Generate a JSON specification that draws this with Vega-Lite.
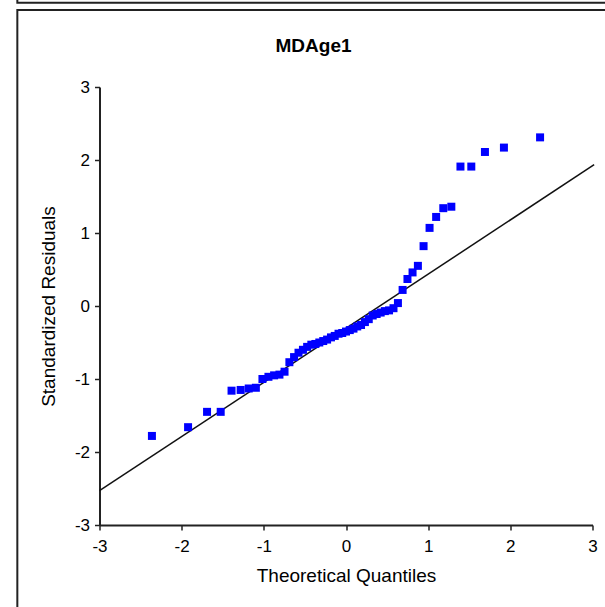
{
  "$schema": "https://vega.github.io/schema/vega-lite/v6.json",
  "autosize": {"type": "none"},
  "width": 493,
  "height": 438,
  "padding": {"left": 99.5, "top": 87, "right": 12.5, "bottom": 82},
  "background": "white",
  "config": {
    "view": {"stroke": null},
    "font": "Liberation Sans",
    "axis": {
      "grid": false,
      "domainColor": "#222",
      "domainWidth": 2,
      "tickColor": "#222",
      "tickWidth": 1.5,
      "tickSize": 5,
      "labelFont": "Liberation Sans",
      "labelFontSize": 17,
      "labelColor": "#000",
      "titleFont": "Liberation Sans",
      "titleFontSize": 19,
      "titleFontWeight": "normal",
      "titleColor": "#000"
    }
  },
  "title": {
    "text": "MDAge1",
    "font": "Liberation Sans",
    "fontSize": 19,
    "fontWeight": "bold",
    "color": "#000",
    "anchor": "middle",
    "frame": "group",
    "baseline": "alphabetic",
    "offset": 0,
    "dy": 102,
    "dx": -32.5
  },
  "datasets": {
    "points": [
      {"q": -2.362, "r": -1.78}, {"q": -1.922, "r": -1.66}, {"q": -1.691, "r": -1.45},
      {"q": -1.525, "r": -1.45}, {"q": -1.393, "r": -1.16}, {"q": -1.282, "r": -1.15},
      {"q": -1.184, "r": -1.13}, {"q": -1.097, "r": -1.12}, {"q": -1.017, "r": -1.00},
      {"q": -0.944, "r": -0.97}, {"q": -0.875, "r": -0.95}, {"q": -0.810, "r": -0.94},
      {"q": -0.748, "r": -0.90}, {"q": -0.689, "r": -0.77}, {"q": -0.632, "r": -0.70},
      {"q": -0.578, "r": -0.64}, {"q": -0.524, "r": -0.60}, {"q": -0.473, "r": -0.56},
      {"q": -0.422, "r": -0.53}, {"q": -0.373, "r": -0.52}, {"q": -0.325, "r": -0.50},
      {"q": -0.277, "r": -0.48}, {"q": -0.230, "r": -0.46}, {"q": -0.183, "r": -0.43},
      {"q": -0.137, "r": -0.41}, {"q": -0.091, "r": -0.38}, {"q": -0.046, "r": -0.37},
      {"q": 0.0, "r": -0.35}, {"q": 0.046, "r": -0.33}, {"q": 0.091, "r": -0.31},
      {"q": 0.137, "r": -0.28}, {"q": 0.183, "r": -0.26}, {"q": 0.230, "r": -0.22},
      {"q": 0.277, "r": -0.18}, {"q": 0.325, "r": -0.13}, {"q": 0.373, "r": -0.11},
      {"q": 0.422, "r": -0.09}, {"q": 0.473, "r": -0.07}, {"q": 0.524, "r": -0.06},
      {"q": 0.578, "r": -0.03}, {"q": 0.632, "r": 0.04}, {"q": 0.689, "r": 0.22},
      {"q": 0.748, "r": 0.37}, {"q": 0.810, "r": 0.46}, {"q": 0.875, "r": 0.55},
      {"q": 0.944, "r": 0.82}, {"q": 1.017, "r": 1.07}, {"q": 1.097, "r": 1.22},
      {"q": 1.184, "r": 1.34}, {"q": 1.282, "r": 1.36}, {"q": 1.393, "r": 1.91},
      {"q": 1.525, "r": 1.91}, {"q": 1.691, "r": 2.11}, {"q": 1.922, "r": 2.17},
      {"q": 2.362, "r": 2.31}
    ],
    "refline": [
      {"q": -3, "r": -2.53},
      {"q": 3.02, "r": 1.935}
    ]
  },
  "layer": [
    {
      "data": {"values": [{}]},
      "mark": {"type": "rect", "fill": null, "stroke": "#222", "strokeWidth": 2, "clip": false},
      "encoding": {
        "x": {"datum": -4.0, "type": "quantitative"},
        "x2": {"datum": 3.5},
        "y": {"datum": 4.055, "type": "quantitative"},
        "y2": {"datum": -4.6}
      }
    },
    {
      "data": {"values": [{}]},
      "mark": {"type": "rect", "fill": null, "stroke": "#222", "strokeWidth": 2, "clip": false},
      "encoding": {
        "x": {"datum": -4.0, "type": "quantitative"},
        "x2": {"datum": 3.5},
        "y": {"datum": 4.155, "type": "quantitative"},
        "y2": {"datum": 4.6}
      }
    },
    {
      "data": {"name": "refline"},
      "mark": {"type": "line", "color": "#111", "strokeWidth": 1.5, "clip": false},
      "encoding": {
        "x": {"field": "q", "type": "quantitative"},
        "y": {"field": "r", "type": "quantitative"}
      }
    },
    {
      "data": {"name": "points"},
      "mark": {"type": "point", "shape": "square", "filled": true, "color": "#0000FF", "size": 64, "opacity": 1, "clip": false},
      "encoding": {
        "x": {
          "field": "q", "type": "quantitative",
          "scale": {"domain": [-3, 3], "nice": false, "zero": false},
          "axis": {"title": "Theoretical Quantiles", "values": [-3, -2, -1, 0, 1, 2, 3], "labelExpr": "'' + datum.value", "labelPadding": 8, "titlePadding": 12, "labelFlush": false}
        },
        "y": {
          "field": "r", "type": "quantitative",
          "scale": {"domain": [-3, 3], "nice": false, "zero": false},
          "axis": {"title": "Standardized Residuals", "values": [-3, -2, -1, 0, 1, 2, 3], "labelExpr": "'' + datum.value", "labelPadding": 5, "titlePadding": 16, "labelFlush": false}
        }
      }
    }
  ]
}
